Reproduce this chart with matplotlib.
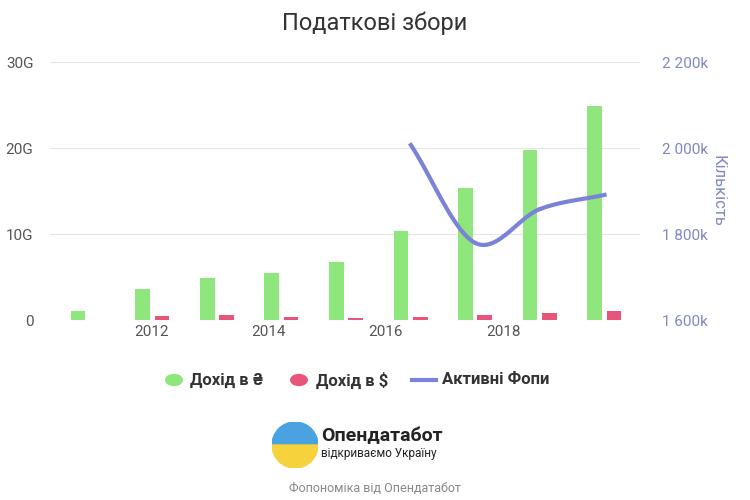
import numpy as np
from matplotlib import pyplot as plt
from matplotlib.patches import Wedge

years = [2011, 2012, 2013, 2014, 2015, 2016, 2017, 2018, 2019]
income_uah = [1.05, 3.6, 4.9, 5.5, 6.7, 10.3, 15.3, 19.8, 24.9]  # G
income_usd = [0.05, 0.45, 0.6, 0.3, 0.25, 0.4, 0.6, 0.8, 1.1]  # G
fop_years = [2016, 2017, 2018, 2019]
fop_active = [2007, 1779, 1858, 1891]  # k

green = "#8ee67d"
red = "#e8557a"
blue = "#7b83d6"
axis_blue = "#8088c4"

plt.rcParams["font.family"] = ["Roboto", "DejaVu Sans"]

# bars sit on a category grid that is slightly wider than the year axis
def pos(y):
    return 2010.74 + (y - 2011) * 1.103

fig = plt.figure(figsize=(7.5, 5), dpi=100)
ax = fig.add_axes([50 / 750, 180 / 500, 590 / 750, 258 / 500])
x = np.array([pos(y) for y in years])
ax.bar(x, income_uah, width=0.25, color=green, zorder=3)
ax.bar(x + 0.33, income_usd, width=0.25, color=red, zorder=3)
ax.set_xlim(2010.26, 2020.34)
ax.set_ylim(0, 30)
ax.set_yticks([0, 10, 20, 30])
ax.set_yticklabels(["0", "10G", "20G", "30G"])
ax.set_xticks([2012, 2014, 2016, 2018])
ax.grid(axis="y", color="#e6e6e6", zorder=0)
for s in ax.spines.values():
    s.set_visible(False)
ax.tick_params(length=0, labelsize=11, colors="#555555")
ax.tick_params(axis="y", pad=12)

ax2 = ax.twinx()
fx = np.array([pos(y) + 0.17 for y in fop_years])
fy = np.array(fop_active, dtype=float)
# catmull-rom smoothing for display
px = np.concatenate([[2 * fx[0] - fx[1]], fx, [2 * fx[-1] - fx[-2]]])
py = np.concatenate([[2 * fy[0] - fy[1]], fy, [2 * fy[-1] - fy[-2]]])
sx, sy = [], []
t = np.linspace(0, 1, 30)
for i in range(1, len(px) - 2):
    for arr, out in ((px, sx), (py, sy)):
        p0, p1, p2, p3 = arr[i - 1:i + 3]
        out.extend(0.5 * (2 * p1 + (-p0 + p2) * t + (2 * p0 - 5 * p1 + 4 * p2 - p3) * t ** 2
                          + (-p0 + 3 * p1 - 3 * p2 + p3) * t ** 3))
ax2.plot(sx, sy, color=blue, lw=3, zorder=4)
ax2.set_ylim(1600, 2200)
ax2.set_yticks([1600, 1800, 2000, 2200])
ax2.set_yticklabels(["1 600k", "1 800k", "2 000k", "2 200k"])
for s in ax2.spines.values():
    s.set_visible(False)
ax2.tick_params(length=0, labelsize=11, colors=axis_blue, pad=16)
ax2.set_ylabel("Кількість", color=axis_blue, rotation=270, fontsize=12, labelpad=12)

fig.text(0.5, 0.953, "Податкові збори", ha="center", va="center", fontsize=17, color="#333333")

# legend
ly = 1 - 380 / 500
fig.patches.append(plt.Circle((174 / 750, ly), 0.011, transform=fig.transFigure, color=green))
fig.text(190 / 750, ly, "Дохід в ₴", va="center", fontsize=12, weight="bold", color="#333333")
fig.patches.append(plt.Circle((299 / 750, ly), 0.011, transform=fig.transFigure, color=red))
fig.text(316 / 750, ly, "Дохід в $", va="center", fontsize=12, weight="bold", color="#333333")
fig.lines.append(plt.Line2D([412 / 750, 436 / 750], [ly, ly], transform=fig.transFigure, color=blue, lw=3))
fig.text(442 / 750, ly, "Активні Фопи", va="center", fontsize=12, weight="bold", color="#333333")

# logo
lax = fig.add_axes([272 / 750, 1 - 468 / 500, 46 / 750, 46 / 500])
lax.add_patch(Wedge((0, 0), 1, 0, 180, color="#4aa3e0"))
lax.add_patch(Wedge((0, 0), 1, 180, 360, color="#f6d23c"))
lax.set_xlim(-1, 1)
lax.set_ylim(-1, 1)
lax.set_aspect("equal")
lax.axis("off")
fig.text(321 / 750, 1 - 436 / 500, "Опендатабот", va="center", fontsize=14, weight="bold", color="#222222")
fig.text(321 / 750, 1 - 454 / 500, "відкриваємо Україну", va="center", fontsize=8.5, color="#222222")
fig.text(0.5, 1 - 489 / 500, "Фопономіка від Опендатабот", ha="center", va="center", fontsize=9, color="#888888")

fig.savefig("out.png")
